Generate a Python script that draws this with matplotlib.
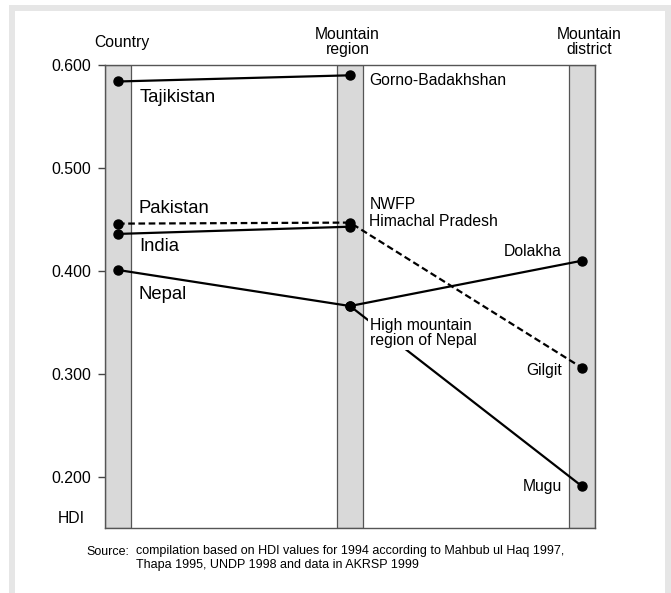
import matplotlib.pyplot as plt
from matplotlib.patches import Rectangle

plt.rcParams['font.family'] = ['Liberation Sans', 'DejaVu Sans']

levels = ["Country", "Mountain\nregion", "Mountain\ndistrict"]
yticks = [0.2, 0.3, 0.4, 0.5, 0.6]

# HDI values (country, region, district)
tajikistan = [0.584, 0.590]
pakistan = [0.446, 0.447, 0.306]
india = [0.436, 0.443]
nepal = [0.401, 0.366, 0.410]
nepal_mugu = [0.366, 0.191]

fig = plt.figure(figsize=(6.71, 5.93), dpi=100)
fig.patch.set_facecolor('white')
# grey page frame
fig.patches.append(Rectangle((9 / 671, 0), 6 / 671, 1 - 5 / 593, transform=fig.transFigure,
                             facecolor='#e6e6e6', edgecolor='none', zorder=0))
fig.patches.append(Rectangle((9 / 671, 1 - 11 / 593), 662 / 671, 6 / 593, transform=fig.transFigure,
                             facecolor='#e6e6e6', edgecolor='none', zorder=0))
fig.patches.append(Rectangle((665 / 671, 0), 6 / 671, 1 - 5 / 593, transform=fig.transFigure,
                             facecolor='#e6e6e6', edgecolor='none', zorder=0))

ax = fig.add_axes([105 / 671, 65 / 593, 490 / 671, 463 / 593])
hw = 0.056
for x in range(3):
    ax.axvspan(x - hw, x + hw, facecolor='#d9d9d9', edgecolor='#555555', lw=0.9, zorder=1)

lw = 1.6
ms = 6.5
ax.plot([0, 1], tajikistan, '-', color='black', lw=lw, marker='o', ms=ms, zorder=3)
ax.plot([0, 1, 2], pakistan, '--', color='black', lw=lw, marker='o', ms=ms, zorder=3,
        dashes=(3, 1.6))
ax.plot([0, 1], india, '-', color='black', lw=lw, marker='o', ms=ms, zorder=3)
ax.plot([0, 1, 2], nepal, '-', color='black', lw=lw, marker='o', ms=ms, zorder=3)
ax.plot([1, 2], nepal_mugu, '-', color='black', lw=lw, marker='o', ms=ms, zorder=3)

ax.set_xlim(-hw, 2 + hw)
ax.set_ylim(0.1505, 0.6)
ax.set_xticks([])
ax.set_yticks(yticks)
ax.set_yticklabels([f"{v:.3f}" for v in yticks], fontsize=11.4)
ax.tick_params(axis='y', length=5, width=1, color='#444444', pad=5)
for s in ax.spines.values():
    s.set_color('#555555')
    s.set_linewidth(1)
    s.set_zorder(4)

# column headers
hdr_x = [0.017, 0.99, 2.03]
for x, t in zip(hdr_x, levels):
    ax.text(x, 0.6 + 0.022, t, ha='center', va='center', fontsize=11.3,
            linespacing=1.0, clip_on=False)

# country labels
ax.text(0.095, 0.568, "Tajikistan", fontsize=13.4, va='center')
ax.text(0.09, 0.461, "Pakistan", fontsize=13.3, va='center')
ax.text(0.09, 0.424, "India", fontsize=13.3, va='center')
ax.text(0.09, 0.377, "Nepal", fontsize=13.3, va='center')

# region labels
ax.text(1.083, 0.585, "Gorno-Badakhshan", fontsize=11.3, va='center')
ax.text(1.083, 0.465, "NWFP", fontsize=11.3, va='center')
ax.text(1.083, 0.448, "Himachal Pradesh", fontsize=11.3, va='center')
ax.text(1.086, 0.340, "High mountain\nregion of Nepal", fontsize=11.3, va='center',
        linespacing=1.05, zorder=5,
        bbox=dict(facecolor='white', edgecolor='none', pad=1.2))

# district labels
ax.text(1.914, 0.419, "Dolakha", fontsize=11.3, va='center', ha='right')
ax.text(1.914, 0.303, "Gilgit", fontsize=11.3, va='center', ha='right')
ax.text(1.914, 0.191, "Mugu", fontsize=11.3, va='center', ha='right')

ax.text(-0.142, 0.160, "HDI", fontsize=11.3, va='center', ha='right', clip_on=False)

fig.text(86 / 671, 1 - 552 / 593, "Source:", fontsize=9, va='center')
fig.text(136 / 671, 1 - 558 / 593,
         "compilation based on HDI values for 1994 according to Mahbub ul Haq 1997,\n"
         "Thapa 1995, UNDP 1998 and data in AKRSP 1999",
         fontsize=9, va='center', linespacing=1.15)

fig.savefig('out.png', dpi=100)
